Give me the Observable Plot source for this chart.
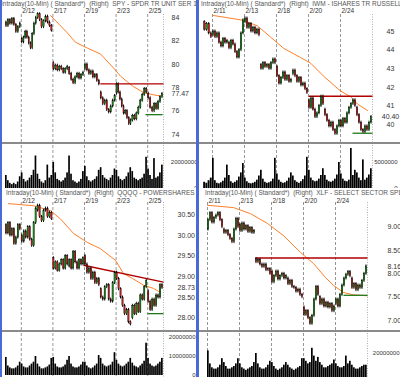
<!DOCTYPE html>
<html><head><meta charset="utf-8">
<script src="https://cdn.jsdelivr.net/npm/d3@7"></script>
<script src="https://cdn.jsdelivr.net/npm/@observablehq/plot@0.6"></script>
<style>
body{margin:0;background:#fff;}
#root{position:relative;width:400px;height:377px;overflow:hidden;background:#fff;font-family:"Liberation Sans",Arial,sans-serif;}
.box{position:absolute;overflow:hidden;}
.title{position:absolute;font-size:6.5px;line-height:8px;color:#555;white-space:pre;}
.sep{position:absolute;left:0;height:2px;background:#8a8a8a;}
.blue{position:absolute;top:0;height:377px;background:#4a6ad6;}
svg{display:block;position:absolute;left:0;}
</style></head><body><div id="root"></div>
<script>
// ================= DATA =================
// ---- SPY ----
const spyDates = ["2/11","2/12","2/13","2/17","2/18","2/19","2/20","2/23","2/24","2/25"];
const spyPrices = [
  [83.6, 83.3, 83.8, 83.5, 83.9, 83.4, 82.8, 83.2, 83.5],
  [82.2, 81.9, 82.3, 82.8, 82.3, 81.8, 81.4, 82.6, 83.5, 84.0],
  [84.0, 84.3, 83.8, 83.2, 83.7, 84.1, 83.6, 83.3, 82.9],
  [80.1, 79.6, 79.9, 79.5, 79.8, 79.6, 79.3, 79.6, 79.8],
  [79.7, 79.2, 78.7, 78.4, 78.9, 79.2, 78.8, 79.1, 79.3],
  [79.6, 80.0, 79.5, 79.2, 79.4, 78.9, 79.1, 78.6, 78.3],
  [77.6, 77.1, 76.6, 76.9, 76.1, 75.9, 76.4, 76.9, 77.3],
  [77.5, 78.3, 77.6, 77.0, 76.4, 75.8, 76.0, 75.4, 74.9, 75.2],
  [75.2, 75.6, 75.3, 75.8, 76.3, 76.9, 77.4, 77.9, 77.6],
  [77.5, 77.1, 76.3, 76.0, 76.6, 76.2, 76.8, 77.2, 77.47]
];
const spyVolumes = [ // millions
  [10, 6, 4, 3, 4, 3, 5, 9],
  [12, 7, 5, 6, 8, 10, 14, 25],
  [11, 7, 5, 4, 6, 18, 8, 10],
  [20, 12, 7, 6, 5, 6, 8, 12],
  [25, 11, 6, 5, 4, 5, 7, 13],
  [17, 9, 6, 5, 6, 7, 9, 14],
  [16, 10, 8, 7, 6, 8, 10, 15],
  [14, 9, 7, 6, 7, 9, 12, 16],
  [13, 8, 7, 6, 7, 8, 11, 24],
  [15, 10, 7, 23, 8, 9, 12, 18]
];
const spyAvgDay = [2.85, 3.92, 4.43, 5.19, 6.01, 6.84, 7.28, 7.72, 8.1, 8.73, 9.37, 9.81];
const spyAvg    = [84.2, 82.7, 81.9, 81.4, 80.9, 79.7, 79.0, 78.5, 78.1, 77.6, 77.4, 77.3];
const spyLineFrom = [6.0, 8.86], spyLineTo = [10, 9.94];
const spyLineStart = [78.34, 75.7], spyLineEnd = [78.34, 75.7];
const spyGridDays = [1, 3, 5, 7, 9];
const spyGridLabels = ["2/12", "2/17", "2/19", "2/23", "2/25"];
const spyPriceTicks = [74, 76, 77.47, 78, 80, 82, 84];
const spyPriceLabels = ["74", "76", "77.47", "78", "80", "82", "84"];
const spyVolTicks = [0, 20];
const spyVolLabels = ["0", "20000000"];

// ---- IWM ----
const iwmDates = ["2/10","2/11","2/12","2/13","2/17","2/18","2/19","2/20","2/23","2/24","2/25"];
const iwmPrices = [
  [45.5, 45.1, 45.4, 44.9, 44.7],
  [44.8, 45.0, 44.7, 44.9, 44.4, 44.2, 44.6, 44.4, 44.5],
  [44.4, 44.1, 44.5, 44.3, 43.9, 43.6, 44.0, 44.9, 45.6],
  [45.5, 45.7, 45.2, 45.4, 45.0, 45.2, 44.9, 45.1, 44.8],
  [43.2, 43.0, 43.3, 43.1, 43.2, 43.0, 43.3, 43.5, 43.3],
  [43.1, 42.6, 42.2, 42.5, 42.8, 42.4, 42.6, 42.3, 42.4],
  [42.7, 42.9, 42.6, 42.3, 42.5, 42.1, 42.2, 41.9, 41.7],
  [41.3, 40.9, 41.4, 40.8, 40.4, 40.6, 41.0, 41.5, 41.1],
  [40.8, 40.5, 40.2, 39.9, 40.1, 39.7, 39.5, 39.9, 40.2],
  [40.2, 39.9, 40.3, 40.1, 40.6, 40.9, 41.1, 41.3, 41.0],
  [40.9, 40.5, 40.1, 39.7, 39.6, 39.9, 39.7, 40.1, 40.40]
];
const iwmVolumes = [
  [1.2, 1.0, 1.5, 2.0],
  [5.8, 1.5, 1.0, 0.9, 1.1, 1.4, 2.0, 4.5],
  [2.5, 1.3, 1.0, 1.2, 1.5, 2.2, 3.0, 4.8],
  [2.0, 1.3, 1.0, 0.9, 1.0, 1.2, 1.6, 2.4],
  [3.5, 1.8, 1.2, 1.0, 1.1, 1.3, 1.8, 5.8],
  [2.8, 1.6, 1.2, 1.0, 1.1, 1.4, 2.0, 3.0],
  [2.4, 1.5, 1.2, 1.0, 1.3, 1.7, 2.4, 6.0],
  [3.5, 2.0, 1.5, 1.3, 1.4, 1.8, 2.5, 3.8],
  [2.5, 1.6, 1.3, 1.2, 1.4, 1.8, 2.6, 5.0],
  [2.8, 1.8, 1.4, 1.3, 1.6, 7.7, 2.5, 3.5],
  [3.0, 2.0, 1.5, 5.5, 1.6, 2.0, 2.6, 3.8]
];
const iwmAvgDay = [1.06, 2.94, 3.81, 4.63, 5.44, 6.5, 7.13, 7.94, 9.0, 9.63, 10.06, 10.69];
const iwmAvg    = [45.86, 45.6, 45.3, 44.7, 44.1, 43.6, 43.3, 42.6, 41.8, 41.5, 41.1, 40.75];
const iwmLineFrom = [7.0, 9.75], iwmLineTo = [11, 11];
const iwmLineStart = [41.52, 39.53], iwmLineEnd = [41.52, 39.53];
const iwmGridDays = [1, 3, 5, 7, 9];
const iwmGridLabels = ["2/11", "2/13", "2/18", "2/20", "2/24"];
const iwmPriceTicks = [40, 40.4, 41, 42, 43, 44, 45];
const iwmPriceLabels = ["40", "40.40", "41", "42", "43", "44", "45"];
const iwmVolTicks = [0, 5];
const iwmVolLabels = ["0", "5000000"];

// ---- QQQQ ----
const qqqDates = ["2/11","2/12","2/13","2/17","2/18","2/19","2/20","2/23","2/24","2/25"];
const qqqPrices = [
  [30.25, 30.05, 30.3, 30.0, 30.15, 29.8, 29.95, 30.25, 30.15],
  [30.0, 29.85, 30.1, 29.95, 30.2, 29.9, 29.75, 30.3, 30.65],
  [30.6, 30.72, 30.45, 30.35, 30.6, 30.65, 30.45, 30.55, 30.4],
  [29.45, 29.2, 29.35, 29.15, 29.3, 29.4, 29.2, 29.5, 29.3],
  [29.25, 29.4, 29.2, 29.6, 29.35, 29.2, 29.4, 29.3, 29.45],
  [29.5, 29.3, 29.1, 29.2, 28.95, 29.1, 28.85, 28.95, 28.8],
  [28.7, 28.5, 28.45, 28.75, 28.8, 28.45, 28.4, 28.85, 29.1],
  [29.1, 28.95, 28.7, 28.5, 28.3, 28.1, 28.2, 27.9, 27.85],
  [28.0, 28.3, 28.1, 28.35, 28.15, 28.55, 28.45, 28.75, 28.9],
  [28.65, 28.4, 28.2, 28.45, 28.3, 28.55, 28.5, 28.8, 28.73]
];
const qqqVolumes = [
  [9.5, 5, 4, 3.5, 3.5, 4, 5, 7],
  [6, 4.5, 4, 4, 5, 6, 7, 10],
  [6, 4.5, 3.5, 3.5, 4, 4.5, 5.5, 9],
  [9.5, 6, 4.5, 4, 4, 4.5, 5.5, 8],
  [10, 6, 4.5, 4, 4, 4.5, 5.5, 7],
  [7, 5, 4, 3.5, 4, 5, 6, 10.5],
  [9, 6, 5, 4.5, 5, 5.5, 7, 12],
  [8, 6, 5, 4.5, 5, 6, 7, 9],
  [6.5, 5, 4.5, 4, 5, 6, 7.5, 17],
  [9, 6, 5, 4.5, 5, 6, 7, 9]
];
const qqqAvgDay = [0.19, 1.77, 2.85, 3.48, 4.3, 5.19, 6.01, 6.96, 7.47, 8.04, 8.73, 9.37, 9.81];
const qqqAvg    = [30.77, 30.72, 30.6, 30.4, 30.05, 29.83, 29.68, 29.4, 29.08, 28.96, 28.8, 28.72, 28.62];
const qqqLineFrom = [4.94, 8.99], qqqLineTo = [10, 10];
const qqqLineStart = [29.28, 28.11], qqqLineEnd = [28.87, 28.11];
const qqqGridDays = [1, 3, 5, 7, 9];
const qqqGridLabels = ["2/12", "2/17", "2/19", "2/23", "2/25"];
const qqqPriceTicks = [28, 28.5, 28.73, 29, 29.5, 30, 30.5];
const qqqPriceLabels = ["28.00", "28.50", "28.73", "29.00", "29.50", "30.00", "30.50"];
const qqqVolTicks = [0, 10, 20];
const qqqVolLabels = ["0", "10000000", "20000000"];

// ---- XLF ----
const xlfDates = ["2/11","2/12","2/13","2/17","2/18","2/19","2/20","2/23","2/24","2/25"];
const xlfPrices = [
  [8.95, 9.15, 9.3, 9.1, 9.2, 9.25, 9.3, 9.15, 9.0],
  [8.95, 8.88, 8.92, 8.83, 8.75, 8.68, 8.95, 9.18, 9.0],
  [9.05, 8.92, 9.08, 8.95, 9.02, 8.9, 8.98, 8.88, 8.92],
  [8.32, 8.25, 8.3, 8.2, 8.15, 8.2, 8.08, 8.1, 8.0],
  [8.05, 7.82, 7.95, 8.05, 7.88, 7.95, 8.0, 7.9, 7.95],
  [7.9, 7.78, 7.85, 7.72, 7.7, 7.62, 7.66, 7.55, 7.5],
  [7.28, 7.12, 7.2, 7.05, 6.93, 7.1, 7.45, 7.72, 7.55],
  [7.5, 7.35, 7.45, 7.3, 7.38, 7.28, 7.35, 7.2, 7.3],
  [7.35, 7.45, 7.3, 7.55, 7.75, 7.9, 7.98, 8.04, 7.95],
  [7.9, 7.7, 7.78, 7.65, 7.75, 7.7, 7.85, 8.0, 8.16]
];
const xlfVolumes = [
  [22, 12, 9, 8, 8, 9, 11, 16],
  [13, 10, 8, 8, 9, 10, 12, 16],
  [12, 9, 8, 7, 8, 9, 10, 13],
  [20, 12, 9, 8, 8, 9, 11, 14],
  [13, 10, 8, 7, 8, 9, 11, 13],
  [11, 9, 8, 7, 8, 9, 10, 16],
  [16, 14, 12, 13, 24, 18, 14, 17],
  [13, 11, 9, 9, 10, 11, 12, 15],
  [12, 10, 9, 9, 10, 18, 12, 14],
  [11, 9, 8, 8, 9, 10, 11, 11]
];
const xlfAvgDay = [1.0, 2.63, 3.69, 4.75, 5.75, 6.81, 7.63, 8.38, 8.88, 9.5, 10.13, 11.0];
const xlfAvg    = [9.47, 9.42, 9.29, 9.08, 8.82, 8.46, 8.22, 7.92, 7.75, 7.6, 7.55, 7.53];
const xlfLineFrom = [4.0, 9.5], xlfLineTo = [11, 11];
const xlfLineStart = [8.34, 7.54], xlfLineEnd = [8.34, 7.54];
const xlfGridDays = [1, 3, 5, 7, 9];
const xlfGridLabels = ["2/11", "2/13", "2/18", "2/20", "2/24"];
const xlfPriceTicks = [7, 7.5, 8, 8.16, 8.5, 9];
const xlfPriceLabels = ["7.00", "7.50", "8.00", "8.16", "8.50", "9.00"];
const xlfVolTicks = [0, 20];
const xlfVolLabels = ["0", "20000000"];

const titles = [
  "Intraday(10-Min) ( Standard*)  (Right)  SPY - SPDR TR UNIT SER 1",
  "Intraday(10-Min) ( Standard*)  (Right)  IWM - ISHARES TR RUSSELL 2000",
  "Intraday(10-Min) ( Standard*)  (Right)  QQQQ - POWERSHARES QQQ TRUST",
  "Intraday(10-Min) ( Standard*)  (Right)  XLF - SELECT SECTOR SPDR TR"
];

// ================= DRAWING =================
const FONT = "'Liberation Sans', Arial, sans-serif";
const RED = "#e01818", GREEN = "#13a013";
const LEVEL_COLORS = ["#b00000", "#1e7a1e"];

function fmt(ticks, labels) {
  const m = new Map(ticks.map((t, i) => [t, labels[i]]));
  return d => m.has(d) ? m.get(d) : String(d);
}
function candlesFrom(days, firstStart, offset) {
  const out = [];
  days.forEach((p, i) => {
    const d = offset + i, s = i === 0 ? firstStart : d, n = p.length - 1, w = (d + 1 - s) / n;
    for (let j = 0; j < n; j++) out.push({x1: s + j * w, x2: s + (j + 1) * w, xm: s + (j + 0.5) * w, o: p[j], c: p[j + 1]});
  });
  return out;
}
function volsFrom(days, firstStart, offset) {
  const out = [];
  days.forEach((v, i) => {
    const d = offset + i, s = i === 0 ? firstStart : d, w = (d + 1 - s) / v.length;
    v.forEach((val, j) => out.push({x1: s + j * w, x2: s + (j + 1) * w, v: val}));
  });
  return out;
}

function drawPanel(P) {
  const root = document.getElementById("root");
  const box = document.createElement("div");
  box.className = "box";
  box.style.cssText = `left:${P.left}px;top:${P.top}px;width:${P.w}px;height:${P.h}px;`;
  root.appendChild(box);

  const candles = candlesFrom(P.prices, P.firstStart, P.offset);
  const vols = volsFrom(P.vols, P.firstStart, P.offset);
  const avg = P.avgDay.map((x, i) => ({x, y: P.avg[i]}));
  const levels = P.lFrom.map((x1, i) => ({x1, x2: P.lTo[i], y1: P.lStart[i], y2: P.lEnd[i], c: LEVEL_COLORS[i]}));
  const xEnd = P.xDomain[1];
  const common = {
    width: P.w, marginTop: 0, marginBottom: 0, marginLeft: 0, marginRight: P.w - P.axisX,
    style: {background: "transparent", fontFamily: FONT, overflow: "hidden"},
    x: {domain: P.xDomain, range: P.xRange, axis: null},
    color: {type: "identity"}
  };

  const price = Plot.plot({
    ...common, height: 142,
    y: {domain: P.yRef, range: P.yPx, axis: null},
    marks: [
      Plot.ruleX(P.gridDays, {stroke: "#7c7c7c", strokeWidth: 0.8, strokeDasharray: "3,2", insetTop: 14}),
      Plot.ruleX([xEnd], {stroke: "#9a9a9a", strokeWidth: 0.8, strokeDasharray: "1,1.5", insetTop: 14}),
      Plot.text(P.gridLabels, {x: P.gridDays, text: d => d, frameAnchor: "top", lineAnchor: "middle", dy: P.dateDy, dx: 1, textAnchor: "start", fontSize: 6.5, fill: "#333"}),
      Plot.axisY({anchor: "right", label: null, ticks: P.pTicks, tickFormat: fmt(P.pTicks, P.pLabels), tickSize: 0, tickPadding: P.pPad, textAnchor: P.pAnchor, fontSize: 7, fill: "#333"}),
      Plot.line(avg, {x: "x", y: "y", stroke: "#ff7f2a", strokeWidth: 1}),
      Plot.link(levels, {x1: "x1", x2: "x2", y1: "y1", y2: "y2", stroke: "c", strokeWidth: 1.3}),
      Plot.rect(candles, {x1: "xm", x2: "xm", y1: "o", y2: "c", fill: "#000", insetLeft: -0.45, insetRight: -0.45, insetTop: -1.5, insetBottom: -1.5}),
      Plot.rect(candles, {x1: "x1", x2: "x2", y1: "o", y2: "c", fill: d => d.c >= d.o ? GREEN : RED, stroke: "#000", strokeWidth: 0.4, insetLeft: 0.35, insetRight: 0.35})
    ]
  });
  price.style.top = "0px";
  box.appendChild(price);

  const sep = document.createElement("div");
  sep.className = "sep";
  sep.style.cssText = `top:142px;width:${P.w}px;`;
  box.appendChild(sep);

  const vol = Plot.plot({
    ...common, height: P.volH,
    y: {domain: [0, P.volRef], range: P.volPx, axis: null},
    marks: [
      Plot.ruleX(P.gridDays, {stroke: "#7c7c7c", strokeWidth: 0.8, strokeDasharray: "3,2"}),
      Plot.ruleX([xEnd], {stroke: "#9a9a9a", strokeWidth: 0.8, strokeDasharray: "1,1.5"}),
      Plot.rect(vols, {x1: "x1", x2: "x2", y1: 0, y2: "v", fill: "#000", insetRight: 0.3}),
      Plot.axisY({anchor: "right", label: null, ticks: P.vTicks, tickFormat: fmt(P.vTicks, P.vLabels), tickSize: 0, tickPadding: P.vPad, textAnchor: "end", fontSize: 6, fill: "#333"})
    ]
  });
  vol.style.top = "145px";
  box.appendChild(vol);

  const t = document.createElement("div");
  t.className = "title";
  t.textContent = P.title;
  t.style.left = P.titleX + "px";
  t.style.top = P.titleY + "px";
  box.appendChild(t);
}

drawPanel({
  left: 0, top: 0, w: 198, h: 188, title: titles[0], titleX: 1, titleY: 0,
  prices: spyPrices, vols: spyVolumes, firstStart: 0, offset: 0,
  avgDay: spyAvgDay, avg: spyAvg, lFrom: spyLineFrom, lTo: spyLineTo, lStart: spyLineStart, lEnd: spyLineEnd,
  gridDays: spyGridDays, gridLabels: spyGridLabels, dateDy: 10,
  xDomain: [0, 10], xRange: [5, 163], axisX: 163,
  yRef: [74, 84], yPx: [134, 17.3], pTicks: spyPriceTicks, pLabels: spyPriceLabels, pPad: 8, pAnchor: "start",
  volH: 43, volRef: 20, volPx: [43, 17], vTicks: spyVolTicks, vLabels: spyVolLabels, vPad: 34
});
drawPanel({
  left: 198, top: 0, w: 202, h: 188, title: titles[1], titleX: 3, titleY: 0,
  prices: iwmPrices, vols: iwmVolumes, firstStart: 0.45, offset: 0,
  avgDay: iwmAvgDay, avg: iwmAvg, lFrom: iwmLineFrom, lTo: iwmLineTo, lStart: iwmLineStart, lEnd: iwmLineEnd,
  gridDays: iwmGridDays, gridLabels: iwmGridLabels, dateDy: 10,
  xDomain: [0, 11], xRange: [-2, 174], axisX: 174,
  yRef: [40, 45], yPx: [124, 31], pTicks: iwmPriceTicks, pLabels: iwmPriceLabels, pPad: 18, pAnchor: "middle",
  volH: 43, volRef: 5, volPx: [43, 17], vTicks: iwmVolTicks, vLabels: iwmVolLabels, vPad: 25
});
drawPanel({
  left: 0, top: 188, w: 198, h: 189, title: titles[2], titleX: 6, titleY: 1,
  prices: qqqPrices, vols: qqqVolumes, firstStart: 0, offset: 0,
  avgDay: qqqAvgDay, avg: qqqAvg, lFrom: qqqLineFrom, lTo: qqqLineTo, lStart: qqqLineStart, lEnd: qqqLineEnd,
  gridDays: qqqGridDays, gridLabels: qqqGridLabels, dateDy: 12,
  xDomain: [0, 10], xRange: [5, 163], axisX: 163,
  yRef: [28, 30.5], yPx: [129.7, 26.3], pTicks: qqqPriceTicks, pLabels: qqqPriceLabels, pPad: 14, pAnchor: "start",
  volH: 44, volRef: 20, volPx: [42, 4], vTicks: qqqVolTicks, vLabels: qqqVolLabels, vPad: 32
});
drawPanel({
  left: 198, top: 188, w: 202, h: 189, title: titles[3], titleX: 7, titleY: 1,
  prices: xlfPrices, vols: xlfVolumes, firstStart: 1, offset: 1,
  avgDay: xlfAvgDay, avg: xlfAvg, lFrom: xlfLineFrom, lTo: xlfLineTo, lStart: xlfLineStart, lEnd: xlfLineEnd,
  gridDays: xlfGridDays, gridLabels: xlfGridLabels, dateDy: 12,
  xDomain: [0, 11], xRange: [-7, 169], axisX: 169,
  yRef: [7, 9], yPx: [132, 38.7], pTicks: xlfPriceTicks, pLabels: xlfPriceLabels, pPad: 20, pAnchor: "start",
  volH: 44, volRef: 20, volPx: [46, 20], vTicks: xlfVolTicks, vLabels: xlfVolLabels, vPad: 32
});

const root = document.getElementById("root");
[[0, 2], [196, 3]].forEach(([l, w]) => {
  const b = document.createElement("div");
  b.className = "blue";
  b.style.left = l + "px";
  b.style.width = w + "px";
  root.appendChild(b);
});
</script></body></html>
